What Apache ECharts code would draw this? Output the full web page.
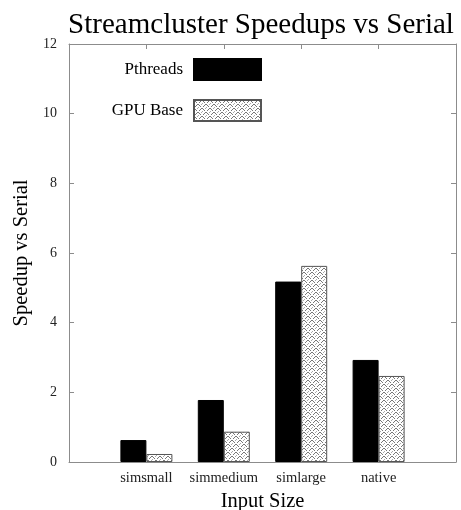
<!DOCTYPE html>
<html><head><meta charset="utf-8">
<script src="https://cdn.jsdelivr.net/npm/echarts@6/dist/echarts.min.js"></script>
<style>html,body{margin:0;padding:0;background:#fff}#c{width:461px;height:510px}</style>
</head><body><div id="c"></div>
<script>
const categories = ['', 'simsmall', 'simmedium', 'simlarge', 'native', ''];
const pthreads = [null, 0.63, 1.78, 5.18, 2.93, null];
const gpuBase = [null, 0.23, 0.87, 5.63, 2.47, null];
const yTicks = [0, 2, 4, 6, 8, 10, 12];

const FONT = '"Liberation Serif", "DejaVu Serif", serif';
function makePattern() {
  const c = document.createElement('canvas');
  c.width = 8; c.height = 8;
  const g = c.getContext('2d');
  g.fillStyle = '#fff'; g.fillRect(0, 0, 8, 8);
  g.fillStyle = '#777';
  for (let i = 0; i < 8; i++) {
    if (i % 4 !== 3) { g.fillRect(i, i, 1, 1); g.fillRect(7 - i, i, 1, 1); }
  }
  g.fillStyle = '#aaa';
  g.fillRect(3, 0, 1, 1); g.fillRect(0, 3, 1, 1); g.fillRect(4, 7, 1, 1); g.fillRect(7, 4, 1, 1);
  return c;
}
const pat = { image: makePattern(), repeat: 'repeat' };
const axisGray = '#8c8c8c';
const chart = echarts.init(document.getElementById('c'), null, { renderer: 'canvas' });
chart.setOption({
  animation: false,
  backgroundColor: '#fff',
  title: {
    text: 'Streamcluster Speedups vs Serial',
    left: 256, top: 6, textAlign: 'center',
    textStyle: { fontFamily: FONT, fontSize: 29, fontWeight: 'normal', color: '#000' }
  },
  legend: [
    { data: ['Pthreads'], icon: 'rect', orient: 'vertical', align: 'right', right: 194, top: 53,
      itemWidth: 67, itemHeight: 21, itemGap: 10,
      textStyle: { fontFamily: FONT, fontSize: 17, color: '#000', padding: [0, 6, 0, 0] } },
    { data: ['GPU Base'], icon: 'rect', orient: 'vertical', align: 'right', right: 194, top: 94,
      itemWidth: 67, itemHeight: 21, itemGap: 10,
      textStyle: { fontFamily: FONT, fontSize: 17, color: '#000', padding: [0, 6, 0, 0] } }
  ],
  grid: { left: 69, right: 5, top: 44, bottom: 48, containLabel: false, outerBoundsMode: 'none' },
  xAxis: [
    { type: 'category', data: categories, boundaryGap: false, position: 'bottom',
      axisLine: { onZero: false, lineStyle: { color: axisGray } }, axisTick: { show: false },
      axisLabel: { interval: 0, fontFamily: FONT, fontSize: 14.5, color: '#222', margin: 9 },
      name: 'Input Size', nameLocation: 'middle', nameGap: 28,
      nameTextStyle: { fontFamily: FONT, fontSize: 20.5, color: '#000' } },
    { type: 'category', data: categories, boundaryGap: false, position: 'top',
      axisLine: { onZero: false, lineStyle: { color: axisGray } },
      axisTick: { show: true, inside: true, length: 5, interval: 0, lineStyle: { color: axisGray } },
      axisLabel: { show: false } }
  ],
  yAxis: [
    { type: 'value', min: 0, max: 12, interval: 2, position: 'left',
      axisLine: { show: true, onZero: false, lineStyle: { color: axisGray } },
      axisTick: { show: true, inside: true, length: 5, lineStyle: { color: axisGray } },
      splitLine: { show: false },
      axisLabel: { fontFamily: FONT, fontSize: 14, color: '#222', margin: 12,
        formatter: v => yTicks.includes(v) ? String(v) : '' },
      name: 'Speedup vs Serial', nameLocation: 'middle', nameGap: 35,
      nameTextStyle: { fontFamily: FONT, fontSize: 20.5, color: '#000' } },
    { type: 'value', min: 0, max: 12, interval: 2, position: 'right',
      axisLine: { show: true, onZero: false, lineStyle: { color: axisGray } },
      axisTick: { show: true, inside: true, length: 5, lineStyle: { color: axisGray } },
      splitLine: { show: false }, axisLabel: { show: false } }
  ],
  series: [
    { name: 'Pthreads', type: 'bar', data: pthreads, barWidth: 26, barGap: '0%',
      itemStyle: { color: '#000', borderColor: '#000', borderWidth: 1 } },
    { name: 'GPU Base', type: 'bar', data: gpuBase, barWidth: 26, barGap: '0%',
      itemStyle: { color: pat, borderColor: '#555', borderWidth: 1 } }
  ]
});
</script></body></html>
